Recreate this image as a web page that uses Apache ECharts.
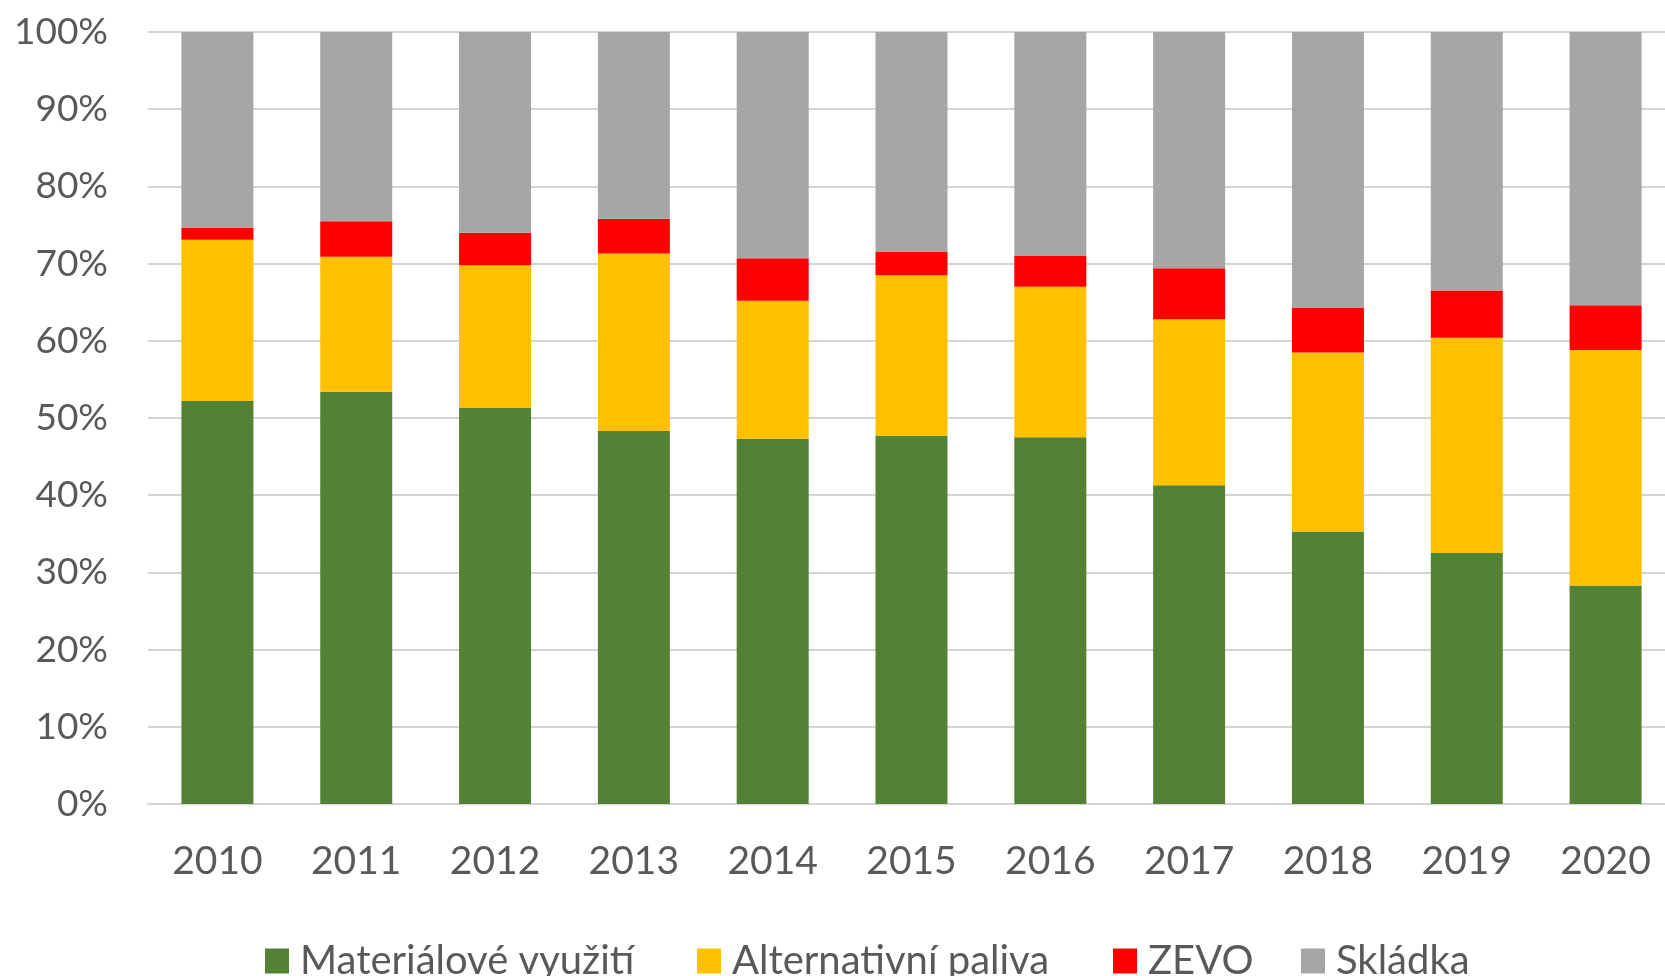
<!DOCTYPE html>
<html>
<head>
<meta charset="utf-8">
<script src="https://cdn.jsdelivr.net/npm/echarts@6/dist/echarts.min.js"></script>
<style>
    html, body { margin: 0; padding: 0; background: #fff; }
    #echart1 { width: 1665px; height: 976px; }
</style>
</head>
<body>
<div id="echart1"></div>
<script>
// data (percent of each year)
var years = ['2010', '2011', '2012', '2013', '2014', '2015', '2016', '2017', '2018', '2019', '2020'];
var material = [52.2, 53.4, 51.3, 48.3, 47.3, 47.7, 47.5, 41.3, 35.3, 32.5, 28.3];
var fuel = [20.9, 17.5, 18.5, 23.0, 17.9, 20.8, 19.5, 21.5, 23.2, 27.9, 30.5];
var zevo = [1.5, 4.6, 4.2, 4.5, 5.5, 3.0, 4.0, 6.6, 5.8, 6.1, 5.8];
var landfill = [25.4, 24.5, 26.0, 24.2, 29.3, 28.5, 29.0, 30.6, 35.7, 33.5, 35.4];
var names = ['Materiálové využití', 'Alternativní paliva', 'ZEVO', 'Skládka'];
var colors = ['#548235', '#ffc000', '#ff0000', '#a6a6a6'];
var legendLeft = [260, 692, 1108, 1296];

echarts_1();

function echarts_1() {
    var myChart = echarts.init(document.getElementById('echart1'));
    var font = 'Lato, "Liberation Sans", sans-serif';
    var vals = [material, fuel, zevo, landfill];

    var series = [];
    var legends = [];
    for (var i = 0; i < names.length; i++) {
        series.push({
            name: names[i],
            type: 'bar',
            stack: 'all',
            barWidth: 72,
            itemStyle: { color: colors[i] },
            data: vals[i]
        });
        // one legend per item so each sits where it is in the picture
        legends.push({
            data: [names[i]],
            left: legendLeft[i],
            top: 936,
            icon: 'rect',
            itemWidth: 24,
            itemHeight: 25,
            textStyle: { color: '#595959', fontSize: 40, fontFamily: font, padding: [0, 0, 0, 6] }
        });
    }

    option = {
        animation: false,
        color: colors,
        legend: legends,
        // plot runs past the right edge, like the cropped original
        grid: {
            left: 148,
            top: 32,
            width: 1527,
            bottom: 172,
            outerBoundsMode: 'none'
        },
        xAxis: {
            type: 'category',
            data: years,
            axisTick: { show: false },
            axisLine: { lineStyle: { color: '#d4d4d4', width: 2 } },
            axisLabel: { color: '#595959', fontSize: 39, fontFamily: font, margin: 38 }
        },
        yAxis: {
            type: 'value',
            min: 0,
            max: 100,
            interval: 10,
            axisLine: { show: false },
            axisTick: { show: false },
            splitLine: { lineStyle: { color: '#d4d4d4', width: 2 } },
            axisLabel: {
                color: '#595959',
                fontSize: 37,
                fontFamily: font,
                margin: 40,
                formatter: '{value}%'
            }
        },
        series: series
    };

    myChart.setOption(option);
    window.addEventListener("resize", function () {
        myChart.resize();
    });
}
</script>
</body>
</html>
